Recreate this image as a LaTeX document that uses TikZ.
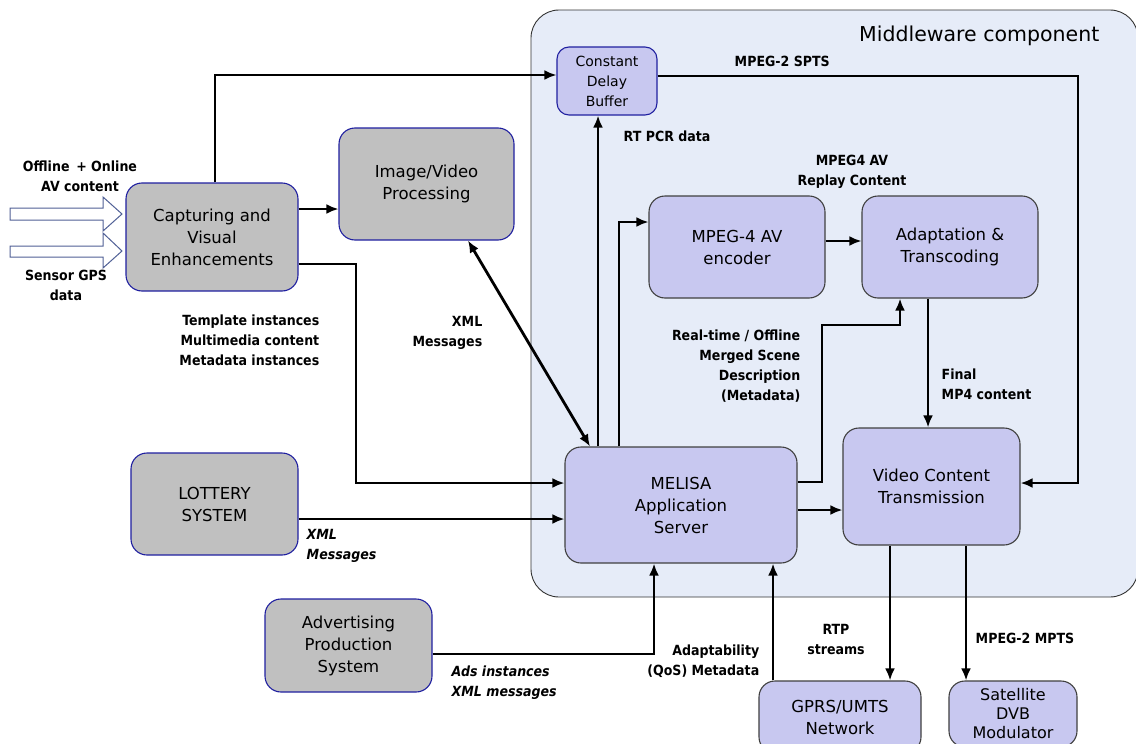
\documentclass[tikz,border=0pt]{standalone}
\usepackage{fontspec}
\setmainfont{DejaVu Sans}
\newfontfamily\lblfont{DejaVu Sans Condensed}
\usetikzlibrary{arrows.meta}

\definecolor{mwfill}{RGB}{230,236,248}
\definecolor{lavender}{RGB}{200,200,240}
\definecolor{extgray}{RGB}{192,192,192}
\definecolor{extblue}{RGB}{32,32,160}
\definecolor{fatarrow}{RGB}{80,96,150}

\begin{document}
\begin{tikzpicture}[->,>={Latex[length=12pt,width=10pt]},x=1pt,y=-1pt,line width=2.8pt,
                    font=\fontsize{16.5}{22}\selectfont]
  \tikzstyle{module}=[draw=black!75,line width=1.1pt,fill=lavender,
                      rounded corners=16pt,align=center]
  \tikzstyle{extsys}=[module,draw=extblue,fill=extgray]
  \tikzstyle{lbl}=[font=\lblfont\bfseries\fontsize{14}{20}\selectfont,align=center]
  \tikzstyle{lbli}=[lbl,font=\lblfont\bfseries\itshape\fontsize{14}{20}\selectfont]

  \path[-,fill=white,use as bounding box] (0,0) rectangle (1136,744);
  \clip (0,0) rectangle (1136,744);

  % middleware part
  \draw[-,fill=mwfill,draw=black!80,line width=0.9pt,rounded corners=28pt]
    (531,10) rectangle (1138,597);
  \node[anchor=east,font=\fontsize{20.5}{24}\selectfont] (MWC) at (1104,36) {Middleware component};

  \node[module,draw=extblue,minimum width=100pt,minimum height=68pt,rounded corners=12pt,
        font=\fontsize{14}{20}\selectfont] (CDB) at (607,81) {Constant\\Delay\\Buffer};
  \node[module,minimum width=176pt,minimum height=102pt] (ENC)  at (737,247)     {MPEG-4 AV\\encoder};
  \node[module,minimum width=176pt,minimum height=102pt] (ADT)  at (950,247)     {Adaptation \&\\Transcoding};
  \node[module,minimum width=232pt,minimum height=116pt] (MEL)  at (681,505)     {MELISA\\Application\\Server};
  \node[module,minimum width=177pt,minimum height=117pt] (VCT)  at (931.5,486.5) {Video Content\\Transmission};
  \node[module,minimum width=162pt,minimum height=72pt]  (GPRS) at (840,717)     {GPRS/UMTS\\Network};
  \node[module,minimum width=128pt,minimum height=66pt,
        font=\fontsize{16}{19}\selectfont]               (SAT)  at (1013,714)    {Satellite\\DVB\\Modulator};

  % outside systems
  \node[extsys,minimum width=172pt,minimum height=108pt] (CAP) at (212,237)     {Capturing and\\Visual\\Enhancements};
  \node[extsys,minimum width=175pt,minimum height=112pt] (IVP) at (426.5,184)   {Image/Video\\Processing};
  \node[extsys,minimum width=167pt,minimum height=102pt] (LOT) at (214.5,504)   {LOTTERY\\SYSTEM};
  \node[extsys,minimum width=167pt,minimum height=93pt]  (ADV) at (348.5,645.5) {Advertising\\Production\\System};

  % input arrows
  \draw[-,draw=fatarrow,fill=white,line width=1pt]
    (10,208) -- (103,208) -- (103,197) -- (122,214) -- (103,231) -- (103,220) -- (10,220) -- cycle;
  \draw[-,draw=fatarrow,fill=white,line width=1pt]
    (10,246) -- (103,246) -- (103,233) -- (122,251) -- (103,268) -- (103,257) -- (10,257) -- cycle;

  % connectors
  \draw (CAP.north -| 215,0) |- ([yshift=6pt]CDB.west);
  \draw (CAP.east |- 0,209) -- (IVP.west |- 0,209);
  \draw (CAP.east |- 0,264) -| (356,483) -- (MEL.west |- 0,483);
  \draw (LOT.east |- 0,519) -- (MEL.west |- 0,519);
  \draw[<->] (IVP.south -| 468,0) -- (MEL.north -| 590,0);
  \draw (MEL.north -| 598,0) -- (CDB.south -| 598,0);
  \draw (MEL.north -| 619,0) |- (ENC.west |- 0,222);
  \draw (ENC.east |- 0,241) -- (ADT.west |- 0,241);
  \draw (MEL.east |- 0,482) -| (822,325) -| (ADT.south -| 900,0);
  \draw (ADT.south -| 928,0) -- (VCT.north -| 928,0);
  \draw (CDB.east |- 0,76) -| (1078,483) -- (VCT.east |- 0,483);
  \draw (MEL.east |- 0,510) -- (VCT.west |- 0,510);
  \draw (VCT.south -| 890,0) -- (GPRS.north -| 890,0);
  \draw (VCT.south -| 966,0) -- (SAT.north -| 966,0);
  \draw (GPRS.north -| 773,0) -- (MEL.south -| 773,0);
  \draw (ADV.east |- 0,654) -| (MEL.south -| 654,0);

  % labels
  \node[lbl] (OFF) at (80,176) {Offline \,+ Online\\AV content};
  \node[lbl] (GPS) at (66,285) {Sensor GPS\\data};
  \node[lbl,anchor=east,align=right] (TPL) at (324,340) {Template instances\\Multimedia content\\Metadata instances};
  \node[lbl,anchor=east,align=right] (XMLa) at (487,333) {XML\\Messages};
  \node[lbli,anchor=north west,align=left] (XMLb) at (302,525) {XML\\ Messages};
  \node[lbli,anchor=west,align=left] (ADS) at (447,683) {Ads instances\\XML messages};
  \node[lbl,anchor=west] (RTPCR) at (619,136) {RT PCR data};
  \node[lbl,anchor=west] (SPTS) at (730,61) {MPEG-2 SPTS};
  \node[lbl] (RPL) at (852,172) {MPEG4 AV\\Replay Content};
  \node[lbl,anchor=east,align=right] (MSD) at (805,366) {Real-time / Offline\\Merged Scene\\Description\\(Metadata)};
  \node[lbl,anchor=west,align=left] (MP4) at (937,384) {Final\\MP4 content};
  \node[lbl] (RTP) at (836,639) {RTP\\streams};
  \node[lbl,anchor=west] (MPTS) at (971,638) {MPEG-2 MPTS};
  \node[lbl,anchor=east,align=right] (QOS) at (764,661) {Adaptability\\(QoS) Metadata};

\end{tikzpicture}
\end{document}
